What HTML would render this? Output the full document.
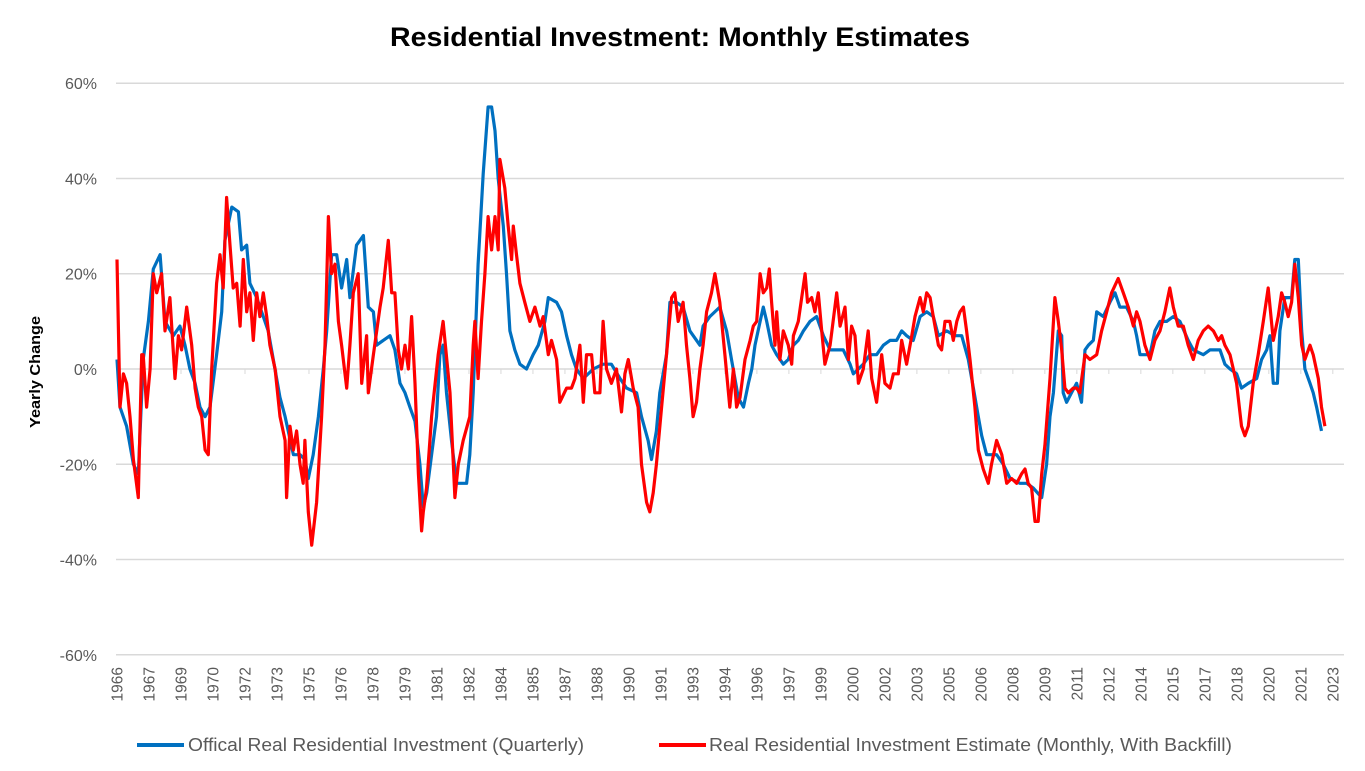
<!DOCTYPE html>
<html><head><meta charset="utf-8"><style>
body{margin:0;background:#fff;}
svg{display:block;font-family:"Liberation Sans",Arial,sans-serif;}
</style></head><body>
<svg id="chart" width="1365" height="771" viewBox="0 0 1365 771">
<text x="390" y="46" font-size="27" font-weight="bold" fill="#000" textLength="580" lengthAdjust="spacingAndGlyphs">Residential Investment: Monthly Estimates</text>
<text transform="translate(40,372) rotate(-90)" text-anchor="middle" font-size="15" font-weight="bold" fill="#000" textLength="112" lengthAdjust="spacingAndGlyphs">Yearly Change</text>
<g id="grid"></g>
<g id="ylabels"></g>
<g id="xlabels"></g>
<g id="series"></g>
<g>
<g>
<line x1="137" y1="745" x2="184" y2="745" stroke="#0070C0" stroke-width="4"/>
<text x="188" y="751" font-size="18" fill="#595959" textLength="396" lengthAdjust="spacingAndGlyphs">Offical Real Residential Investment (Quarterly)</text>
</g>
<g>
<line x1="659" y1="745" x2="706" y2="745" stroke="#FF0000" stroke-width="4"/>
<text x="709" y="751" font-size="18" fill="#595959" textLength="523" lengthAdjust="spacingAndGlyphs">Real Residential Investment Estimate (Monthly, With Backfill)</text>
</g>
</g>
</svg>
<script>
const yTicks = [60, 40, 20, 0, -20, -40, -60];
const xTickLabels = ["1966","1967","1969","1970","1972","1973","1975","1976","1978","1979","1981","1982","1984","1985","1987","1988","1990","1991","1993","1994","1996","1997","1999","2000","2002","2003","2005","2006","2008","2009","2011","2012","2014","2015","2017","2018","2020","2021","2023"];
const blueDates = [1966.0,1966.14,1966.45,1966.77,1967.0,1967.23,1967.47,1967.7,1968.02,1968.25,1968.64,1968.95,1969.19,1969.42,1969.66,1969.89,1970.13,1970.36,1970.67,1970.91,1971.06,1971.38,1971.69,1971.84,1972.08,1972.23,1972.55,1972.86,1973.09,1973.33,1973.64,1973.88,1974.27,1974.58,1974.81,1974.97,1975.2,1975.44,1975.67,1975.83,1976.06,1976.3,1976.53,1976.77,1976.92,1977.23,1977.55,1977.78,1978.02,1978.17,1978.48,1978.8,1979.03,1979.27,1979.5,1979.73,1979.97,1980.2,1980.36,1980.52,1980.98,1981.14,1981.29,1981.45,1981.68,1981.92,1982.39,1982.54,1982.7,1982.93,1983.17,1983.4,1983.56,1983.72,1983.87,1984.11,1984.26,1984.42,1984.65,1984.89,1985.2,1985.51,1985.75,1986.06,1986.22,1986.61,1986.84,1987.08,1987.31,1987.54,1987.86,1988.33,1988.79,1989.18,1989.58,1989.89,1990.36,1990.59,1990.9,1991.06,1991.29,1991.45,1991.76,1991.92,1992.23,1992.54,1992.86,1993.33,1993.48,1993.79,1994.26,1994.58,1994.81,1995.13,1995.37,1995.6,1995.76,1995.91,1996.15,1996.3,1996.46,1996.69,1996.93,1997.24,1997.47,1997.71,1997.94,1998.18,1998.49,1998.8,1999.12,1999.43,2000.05,2000.37,2000.52,2000.76,2000.99,2001.3,2001.61,2001.93,2002.24,2002.55,2002.79,2003.02,2003.33,2003.65,2003.96,2004.27,2004.51,2004.9,2005.29,2005.6,2005.91,2006.15,2006.38,2006.54,2006.77,2007.24,2007.55,2007.87,2008.33,2008.65,2008.96,2009.35,2009.58,2009.74,2009.9,2010.13,2010.29,2010.36,2010.52,2010.75,2010.99,2011.22,2011.38,2011.54,2011.77,2011.93,2012.24,2012.55,2012.79,2013.02,2013.33,2013.65,2013.8,2013.96,2014.43,2014.66,2014.9,2015.21,2015.52,2015.83,2016.22,2016.46,2016.93,2017.24,2017.71,2017.94,2018.18,2018.49,2018.72,2019.04,2019.43,2019.66,2019.9,2020.05,2020.21,2020.4,2020.52,2020.75,2021.07,2021.22,2021.38,2021.54,2021.69,2021.93,2022.08,2022.24,2022.47];
const blueValues = [2,-8,-12,-20,-22,2,10,21,24,10,7,9,5,0,-3,-8,-10,-8,3,12,27,34,33,25,26,18,15,11,8,2,-6,-10,-18,-18,-19,-23,-18,-10,0,8,24,24,17,23,15,26,28,13,12,5,6,7,4,-3,-5,-8,-11,-20,-29,-26,-10,3,5,-5,-15,-24,-24,-18,-5,22,41,55,55,50,40,30,20,8,4,1,0,3,5,10,15,14,12,7,3,0,-2,0,1,1,-2,-4,-5,-10,-15,-19,-13,-5,3,14,14,13,8,5,9,11,13,8,2,-6,-8,-3,0,5,10,13,10,5,3,1,2,5,6,8,10,11,7,4,4,1,-1,0,1,3,3,5,6,6,8,7,6,11,12,11,7,8,7,7,2,-4,-10,-14,-18,-18,-20,-23,-24,-24,-25,-27,-20,-10,-5,8,7,-5,-7,-5,-3,-7,4,5,6,12,11,14,16,13,13,10,7,3,3,8,10,10,11,10,6,4,3,4,4,1,0,-1,-4,-3,-2,2,4,7,-3,-3,8,15,15,23,23,8,0,-3,-5,-8,-13];
const redDates = [1966.0,1966.14,1966.3,1966.45,1966.61,1966.77,1967.0,1967.16,1967.23,1967.39,1967.55,1967.7,1967.86,1968.09,1968.25,1968.48,1968.72,1968.88,1969.03,1969.27,1969.5,1969.66,1969.81,1969.97,1970.13,1970.28,1970.44,1970.67,1970.83,1970.98,1971.14,1971.3,1971.45,1971.61,1971.77,1971.92,1972.08,1972.23,1972.39,1972.55,1972.7,1972.86,1973.02,1973.17,1973.41,1973.64,1973.88,1973.95,1974.11,1974.27,1974.42,1974.58,1974.73,1974.81,1974.97,1975.13,1975.36,1975.59,1975.75,1975.91,1976.06,1976.22,1976.38,1976.53,1976.77,1976.92,1977.08,1977.31,1977.47,1977.7,1977.78,1978.02,1978.33,1978.48,1978.72,1978.88,1979.03,1979.19,1979.34,1979.5,1979.66,1979.81,1979.97,1980.13,1980.28,1980.36,1980.51,1980.75,1981.06,1981.29,1981.61,1981.84,1982.0,1982.23,1982.54,1982.7,1982.78,1982.93,1983.09,1983.25,1983.4,1983.56,1983.72,1983.87,1983.95,1984.18,1984.34,1984.5,1984.58,1984.73,1984.89,1985.12,1985.36,1985.59,1985.83,1985.98,1986.22,1986.37,1986.61,1986.76,1987.08,1987.31,1987.47,1987.7,1987.86,1988.01,1988.25,1988.4,1988.64,1988.79,1988.95,1989.18,1989.42,1989.65,1989.81,1989.97,1990.2,1990.43,1990.59,1990.83,1990.98,1991.14,1991.29,1991.53,1991.76,1992.0,1992.15,1992.31,1992.54,1992.7,1992.86,1993.01,1993.17,1993.33,1993.48,1993.64,1993.87,1994.03,1994.26,1994.5,1994.73,1994.9,1995.05,1995.21,1995.44,1995.68,1995.83,1995.99,1996.15,1996.3,1996.46,1996.58,1996.69,1996.85,1996.93,1997.08,1997.24,1997.47,1997.63,1997.71,1997.94,1998.1,1998.26,1998.37,1998.57,1998.72,1998.88,1999.04,1999.19,1999.43,1999.74,1999.9,2000.13,2000.29,2000.44,2000.6,2000.76,2000.99,2001.22,2001.38,2001.61,2001.85,2002.0,2002.24,2002.4,2002.63,2002.79,2003.02,2003.26,2003.41,2003.65,2003.8,2003.96,2004.12,2004.27,2004.51,2004.66,2004.82,2005.05,2005.21,2005.37,2005.52,2005.68,2005.83,2005.99,2006.22,2006.38,2006.61,2006.85,2007.0,2007.24,2007.48,2007.71,2007.94,2008.18,2008.41,2008.57,2008.72,2008.88,2009.04,2009.19,2009.35,2009.5,2009.74,2009.97,2010.13,2010.29,2010.44,2010.6,2010.83,2010.99,2011.14,2011.38,2011.61,2011.93,2012.16,2012.4,2012.63,2012.94,2013.18,2013.41,2013.65,2013.8,2013.96,2014.19,2014.43,2014.66,2014.9,2015.13,2015.36,2015.52,2015.75,2015.99,2016.22,2016.46,2016.69,2016.93,2017.16,2017.4,2017.63,2017.79,2017.94,2018.18,2018.49,2018.72,2018.88,2019.04,2019.27,2019.5,2019.74,2019.97,2020.21,2020.44,2020.6,2020.75,2020.91,2021.07,2021.22,2021.38,2021.54,2021.69,2021.93,2022.08,2022.32,2022.47,2022.63];
const redValues = [23,-8,-1,-3,-10,-19,-27,3,3,-8,0,20,16,20,8,15,-2,7,4,13,5,-4,-8,-10,-17,-18,0,18,24,17,36,26,17,18,9,23,12,16,6,16,11,16,11,5,0,-10,-15,-27,-12,-17,-13,-20,-24,-15,-30,-37,-28,-10,5,32,20,22,10,5,-4,5,16,20,-3,7,-5,3,13,17,27,16,16,4,0,5,0,11,-3,-22,-34,-30,-25,-10,3,10,-5,-27,-20,-15,-10,5,10,-2,10,20,32,25,32,25,44,38,30,23,30,24,18,14,10,13,9,11,3,6,2,-7,-4,-4,-2,5,-7,3,3,-5,-5,10,0,-3,0,-9,-1,2,-4,-8,-20,-28,-30,-26,-20,-8,3,15,16,10,14,5,-2,-10,-7,0,5,12,16,20,14,3,-8,0,-8,-6,2,6,9,10,20,16,17,21,14,5,12,2,8,5,1,7,10,15,20,14,15,12,16,8,1,5,16,9,13,2,9,7,-3,0,8,-2,-7,3,-3,-4,-1,-1,6,1,7,11,15,12,16,15,11,5,4,10,10,6,10,12,13,8,2,-8,-17,-21,-24,-20,-15,-18,-24,-23,-24,-22,-21,-24,-25,-32,-32,-22,-16,-2,15,10,4,-4,-5,-4,-4,-5,3,2,3,8,12,16,19,16,13,9,12,10,5,2,6,8,12,17,13,9,9,5,2,6,8,9,8,6,7,5,3,-3,-12,-14,-12,-3,3,10,17,6,11,16,14,11,14,22,15,5,2,5,3,-2,-8,-12];

const NS = 'http://www.w3.org/2000/svg';
const plotL = 116, plotR = 1344;
function xScale(yr){ return 117 + (yr - 1966) * 21.33; }
function yScale(v){ return 369 - v * 4.763; }

const grid = document.getElementById('grid');
const ylab = document.getElementById('ylabels');
yTicks.forEach(function(t){
  const ln = document.createElementNS(NS,'line');
  ln.setAttribute('x1', plotL); ln.setAttribute('x2', plotR);
  ln.setAttribute('y1', yScale(t)); ln.setAttribute('y2', yScale(t));
  ln.setAttribute('stroke', '#d9d9d9'); ln.setAttribute('stroke-width', '1.5');
  
  
  grid.appendChild(ln);
  const tx = document.createElementNS(NS,'text');
  tx.setAttribute('x', 97); tx.setAttribute('y', yScale(t) + 6);
  tx.setAttribute('text-anchor', 'end'); tx.setAttribute('font-size', '16'); tx.setAttribute('fill', '#595959');
  tx.textContent = t + '%';
  
  
  ylab.appendChild(tx);
});

const xlab = document.getElementById('xlabels');
xTickLabels.forEach(function(lbl, i){
  const yr = 1966 + 1.5 * i;
  const x = xScale(yr);
  const tk = document.createElementNS(NS,'line');
  tk.setAttribute('x1', x); tk.setAttribute('x2', x);
  tk.setAttribute('y1', 369); tk.setAttribute('y2', 374);
  tk.setAttribute('stroke', '#d9d9d9'); tk.setAttribute('stroke-width', '1');
  
  
  xlab.appendChild(tk);
  const tx = document.createElementNS(NS,'text');
  tx.setAttribute('transform', 'translate(' + (x + 5.5) + ',667) rotate(-90)');
  tx.setAttribute('text-anchor', 'end'); tx.setAttribute('font-size', '15.5'); tx.setAttribute('fill', '#595959');
  tx.textContent = lbl;
  
  
  xlab.appendChild(tx);
});

const series = document.getElementById('series');
function drawLine(dates, vals, color, name){
  let d = '';
  for (let i = 0; i < dates.length; i++){
    d += (i ? 'L' : 'M') + xScale(dates[i]).toFixed(1) + ',' + yScale(vals[i]).toFixed(1);
  }
  const p = document.createElementNS(NS,'path');
  p.setAttribute('d', d); p.setAttribute('fill', 'none');
  p.setAttribute('stroke', color); p.setAttribute('stroke-width', '3.2');
  p.setAttribute('stroke-linejoin', 'round');
  
  
  series.appendChild(p);
}
drawLine(blueDates, blueValues, '#0070C0', 'official-quarterly-line');
drawLine(redDates, redValues, '#FF0000', 'monthly-estimate-line');
</script>
</body></html>
